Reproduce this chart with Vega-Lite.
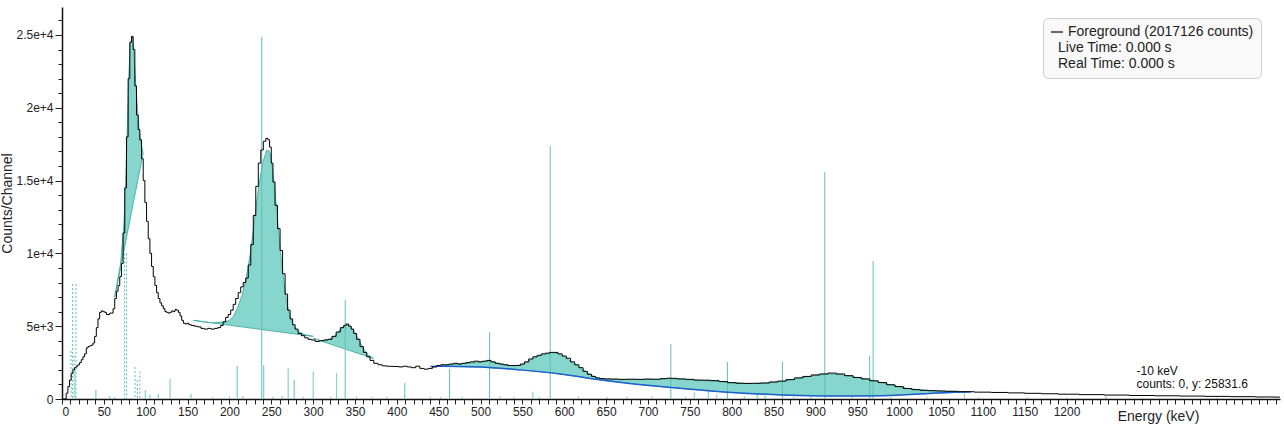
{
  "$schema": "https://vega.github.io/schema/vega-lite/v6.json",
  "width": 1218,
  "height": 392,
  "autosize": {"type": "none"},
  "padding": {"left": 62, "top": 7, "right": 4, "bottom": 31},
  "background": "white",
  "config": {"font": "Liberation Sans", "view": {"stroke": null}},
  "datasets": {
    "spectrum": [
      {"E":0,"C":0},{"E":4,"C":0},{"E":6,"C":400},{"E":8,"C":850},{"E":10,"C":1300},{"E":12,"C":1750},{"E":14,"C":2000},{"E":16,"C":2150},{"E":18,"C":2250},{"E":20,"C":2350},{"E":22,"C":2500},{"E":24,"C":2700},{"E":26,"C":2900},{"E":28,"C":3100},{"E":30,"C":3500},{"E":32,"C":3600},{"E":34,"C":3650},{"E":36,"C":3700},{"E":38,"C":3850},{"E":40,"C":4300},{"E":42,"C":4900},{"E":44,"C":5500},{"E":46,"C":5950},{"E":48,"C":6050},{"E":50,"C":6000},{"E":52,"C":5950},{"E":54,"C":5800},{"E":56,"C":5800},{"E":58,"C":5900},{"E":60,"C":5900},{"E":62,"C":6200},{"E":64,"C":6900},{"E":66,"C":7400},{"E":68,"C":7800},{"E":70,"C":8400},{"E":72,"C":9300},{"E":74,"C":11400},{"E":76,"C":14500},{"E":78,"C":18000},{"E":80,"C":22000},{"E":82,"C":24500},{"E":84,"C":24900},{"E":86,"C":24000},{"E":88,"C":21500},{"E":90,"C":19500},{"E":92,"C":18500},{"E":94,"C":17800},{"E":96,"C":16500},{"E":98,"C":15000},{"E":100,"C":13500},{"E":102,"C":12200},{"E":104,"C":11000},{"E":106,"C":10000},{"E":108,"C":9100},{"E":110,"C":8400},{"E":112,"C":7800},{"E":114,"C":7300},{"E":116,"C":6900},{"E":118,"C":6600},{"E":120,"C":6400},{"E":122,"C":6200},{"E":124,"C":6000},{"E":126,"C":5950},{"E":128,"C":5900},{"E":130,"C":5950},{"E":132,"C":6050},{"E":134,"C":6000},{"E":136,"C":6150},{"E":138,"C":6100},{"E":140,"C":5950},{"E":142,"C":5700},{"E":144,"C":5400},{"E":146,"C":5200},{"E":148,"C":5150},{"E":150,"C":5200},{"E":153,"C":5100},{"E":156,"C":5050},{"E":160,"C":5000},{"E":164,"C":4950},{"E":168,"C":4850},{"E":172,"C":4800},{"E":176,"C":4850},{"E":180,"C":4800},{"E":184,"C":4850},{"E":188,"C":4900},{"E":191,"C":5050},{"E":194,"C":5300},{"E":197,"C":5600},{"E":200,"C":5800},{"E":203,"C":6100},{"E":206,"C":6500},{"E":209,"C":6900},{"E":212,"C":7300},{"E":215,"C":7700},{"E":218,"C":8000},{"E":221,"C":8300},{"E":224,"C":9200},{"E":227,"C":10600},{"E":230,"C":12600},{"E":233,"C":14600},{"E":236,"C":16200},{"E":239,"C":17100},{"E":242,"C":17700},{"E":245,"C":17900},{"E":247,"C":17800},{"E":249,"C":17300},{"E":251,"C":16200},{"E":253,"C":14900},{"E":256,"C":13300},{"E":259,"C":11700},{"E":262,"C":10200},{"E":265,"C":8600},{"E":268,"C":7200},{"E":271,"C":6100},{"E":274,"C":5500},{"E":277,"C":5100},{"E":280,"C":4800},{"E":284,"C":4500},{"E":288,"C":4350},{"E":292,"C":4200},{"E":296,"C":4100},{"E":300,"C":4050},{"E":305,"C":3950},{"E":310,"C":4000},{"E":315,"C":4050},{"E":320,"C":4100},{"E":325,"C":4300},{"E":330,"C":4600},{"E":335,"C":4900},{"E":338,"C":5050},{"E":341,"C":5150},{"E":344,"C":5000},{"E":347,"C":4800},{"E":350,"C":4500},{"E":354,"C":4100},{"E":358,"C":3600},{"E":362,"C":3200},{"E":366,"C":2900},{"E":370,"C":2650},{"E":375,"C":2450},{"E":380,"C":2350},{"E":385,"C":2280},{"E":390,"C":2250},{"E":395,"C":2240},{"E":400,"C":2230},{"E":405,"C":2200},{"E":410,"C":2250},{"E":415,"C":2200},{"E":420,"C":2150},{"E":425,"C":2250},{"E":430,"C":2100},{"E":435,"C":2050},{"E":440,"C":2100},{"E":445,"C":2200},{"E":450,"C":2300},{"E":455,"C":2350},{"E":460,"C":2350},{"E":465,"C":2400},{"E":470,"C":2450},{"E":475,"C":2400},{"E":480,"C":2450},{"E":485,"C":2500},{"E":490,"C":2550},{"E":495,"C":2600},{"E":500,"C":2550},{"E":505,"C":2600},{"E":510,"C":2650},{"E":515,"C":2550},{"E":520,"C":2450},{"E":525,"C":2400},{"E":530,"C":2350},{"E":535,"C":2300},{"E":540,"C":2300},{"E":545,"C":2300},{"E":550,"C":2400},{"E":555,"C":2550},{"E":560,"C":2750},{"E":565,"C":2900},{"E":570,"C":3000},{"E":575,"C":3100},{"E":580,"C":3150},{"E":585,"C":3200},{"E":590,"C":3200},{"E":595,"C":3100},{"E":600,"C":2950},{"E":605,"C":2800},{"E":610,"C":2550},{"E":615,"C":2350},{"E":620,"C":2150},{"E":625,"C":1900},{"E":630,"C":1700},{"E":635,"C":1550},{"E":640,"C":1450},{"E":645,"C":1400},{"E":650,"C":1380},{"E":660,"C":1370},{"E":670,"C":1350},{"E":680,"C":1360},{"E":690,"C":1350},{"E":700,"C":1370},{"E":710,"C":1360},{"E":720,"C":1400},{"E":725,"C":1430},{"E":730,"C":1420},{"E":740,"C":1380},{"E":750,"C":1350},{"E":760,"C":1300},{"E":770,"C":1290},{"E":780,"C":1260},{"E":790,"C":1200},{"E":800,"C":1120},{"E":810,"C":1080},{"E":820,"C":1070},{"E":830,"C":1080},{"E":840,"C":1100},{"E":850,"C":1170},{"E":860,"C":1230},{"E":870,"C":1330},{"E":880,"C":1450},{"E":890,"C":1550},{"E":900,"C":1650},{"E":910,"C":1720},{"E":920,"C":1780},{"E":930,"C":1720},{"E":940,"C":1600},{"E":950,"C":1480},{"E":960,"C":1380},{"E":970,"C":1250},{"E":980,"C":1130},{"E":990,"C":980},{"E":1000,"C":850},{"E":1010,"C":720},{"E":1020,"C":640},{"E":1030,"C":600},{"E":1040,"C":570},{"E":1050,"C":550},{"E":1060,"C":530},{"E":1080,"C":500},{"E":1100,"C":470},{"E":1120,"C":450},{"E":1140,"C":420},{"E":1160,"C":390},{"E":1180,"C":360},{"E":1200,"C":330},{"E":1230,"C":300},{"E":1260,"C":270},{"E":1290,"C":240},{"E":1320,"C":220},{"E":1350,"C":200},{"E":1380,"C":180},{"E":1410,"C":160},{"E":1440,"C":140},{"E":1455,"C":130}
    ],
    "peaks": [
      {"p":"A","E":63,"C":7000,"base":7000},{"p":"A","E":66,"C":8000,"base":7870},{"p":"A","E":70,"C":9300,"base":9040},{"p":"A","E":74,"C":12000,"base":10200},{"p":"A","E":76,"C":14800,"base":10790},{"p":"A","E":78,"C":18500,"base":11370},{"p":"A","E":80,"C":22500,"base":11950},{"p":"A","E":82,"C":24400,"base":12530},{"p":"A","E":84,"C":24900,"base":13120},{"p":"A","E":86,"C":23600,"base":13700},{"p":"A","E":88,"C":21700,"base":14280},{"p":"A","E":90,"C":20000,"base":14860},{"p":"A","E":92,"C":18600,"base":15450},{"p":"A","E":94,"C":17600,"base":16030},{"p":"A","E":97,"C":16900,"base":16900},
      {"p":"B","E":157,"C":5400,"base":5400},{"p":"B","E":180,"C":5223,"base":5223},{"p":"B","E":195,"C":5300,"base":5108},{"p":"B","E":200,"C":5400,"base":5069},{"p":"B","E":205,"C":5700,"base":5031},{"p":"B","E":210,"C":6300,"base":4992},{"p":"B","E":215,"C":7100,"base":4954},{"p":"B","E":220,"C":8300,"base":4915},{"p":"B","E":225,"C":10000,"base":4877},{"p":"B","E":230,"C":12300,"base":4838},{"p":"B","E":235,"C":14600,"base":4800},{"p":"B","E":240,"C":16300,"base":4761},{"p":"B","E":245,"C":17100,"base":4723},{"p":"B","E":248,"C":17000,"base":4700},{"p":"B","E":251,"C":16000,"base":4677},{"p":"B","E":254,"C":14500,"base":4654},{"p":"B","E":257,"C":12600,"base":4631},{"p":"B","E":260,"C":10700,"base":4608},{"p":"B","E":263,"C":9000,"base":4585},{"p":"B","E":266,"C":7600,"base":4561},{"p":"B","E":269,"C":6500,"base":4538},{"p":"B","E":272,"C":5700,"base":4515},{"p":"B","E":276,"C":5100,"base":4485},{"p":"B","E":280,"C":4750,"base":4454},{"p":"B","E":285,"C":4550,"base":4415},{"p":"B","E":290,"C":4420,"base":4377},{"p":"B","E":300,"C":4300,"base":4300},
      {"p":"C","E":300,"C":4170,"base":4170},{"p":"C","E":310,"C":4000,"base":3977},{"p":"C","E":320,"C":4100,"base":3784},{"p":"C","E":325,"C":4300,"base":3688},{"p":"C","E":330,"C":4600,"base":3591},{"p":"C","E":335,"C":4900,"base":3495},{"p":"C","E":340,"C":5100,"base":3398},{"p":"C","E":343,"C":5050,"base":3340},{"p":"C","E":346,"C":4850,"base":3282},{"p":"C","E":350,"C":4500,"base":3205},{"p":"C","E":355,"C":4000,"base":3108},{"p":"C","E":360,"C":3450,"base":3012},{"p":"C","E":365,"C":3050,"base":2915},{"p":"C","E":372,"C":2780,"base":2780},
      {"p":"D","E":451,"C":2250,"base":2250},{"p":"D","E":460,"C":2330,"base":2240},{"p":"D","E":470,"C":2400,"base":2230},{"p":"D","E":480,"C":2430,"base":2215},{"p":"D","E":490,"C":2480,"base":2205},{"p":"D","E":500,"C":2550,"base":2195},{"p":"D","E":510,"C":2600,"base":2150},{"p":"D","E":520,"C":2450,"base":2110},{"p":"D","E":530,"C":2330,"base":2070},{"p":"D","E":540,"C":2280,"base":2030},{"p":"D","E":550,"C":2350,"base":1985},{"p":"D","E":560,"C":2700,"base":1925},{"p":"D","E":570,"C":2950,"base":1870},{"p":"D","E":580,"C":3100,"base":1810},{"p":"D","E":585,"C":3150,"base":1780},{"p":"D","E":590,"C":3150,"base":1750},{"p":"D","E":600,"C":2900,"base":1680},{"p":"D","E":610,"C":2500,"base":1595},{"p":"D","E":620,"C":2100,"base":1510},{"p":"D","E":630,"C":1700,"base":1420},{"p":"D","E":640,"C":1420,"base":1335},{"p":"D","E":650,"C":1350,"base":1265},{"p":"D","E":670,"C":1330,"base":1135},{"p":"D","E":690,"C":1330,"base":1000},{"p":"D","E":710,"C":1340,"base":880},{"p":"D","E":725,"C":1400,"base":805},{"p":"D","E":740,"C":1350,"base":730},{"p":"D","E":760,"C":1280,"base":630},{"p":"D","E":780,"C":1220,"base":540},{"p":"D","E":800,"C":1130,"base":450},{"p":"D","E":820,"C":1060,"base":395},{"p":"D","E":840,"C":1080,"base":340},{"p":"D","E":860,"C":1200,"base":285},{"p":"D","E":880,"C":1420,"base":260},{"p":"D","E":900,"C":1620,"base":235},{"p":"D","E":915,"C":1720,"base":215},{"p":"D","E":930,"C":1680,"base":212},{"p":"D","E":950,"C":1470,"base":218},{"p":"D","E":970,"C":1250,"base":225},{"p":"D","E":990,"C":970,"base":255},{"p":"D","E":1010,"C":720,"base":310},{"p":"D","E":1030,"C":600,"base":365},{"p":"D","E":1050,"C":540,"base":415},{"p":"D","E":1070,"C":510,"base":460},{"p":"D","E":1086,"C":500,"base":500}
    ],
    "blue": [
      {"E":440,"C":2230},{"E":451,"C":2250},{"E":499,"C":2200},{"E":547,"C":2000},{"E":595,"C":1720},{"E":642,"C":1320},{"E":702,"C":920},{"E":762,"C":620},{"E":800,"C":450},{"E":861,"C":280},{"E":921,"C":210},{"E":981,"C":230},{"E":1040,"C":390},{"E":1086,"C":500}
    ],
    "refs": [
      {"E":10.8,"C":3300,"d":"dashed"},{"E":12.7,"C":7900,"d":"dashed"},{"E":14.5,"C":3000,"d":"dashed"},{"E":15.5,"C":2000,"d":"dashed"},{"E":16.7,"C":7900,"d":"dashed"},{"E":74.5,"C":10000,"d":"dashed"},{"E":77.0,"C":10000,"d":"dashed"},{"E":87.2,"C":2200,"d":"dashed"},{"E":90.2,"C":1300,"d":"dashed"},{"E":93.1,"C":1880,"d":"dashed"},
      {"E":40.5,"C":620,"d":"solid"},{"E":57,"C":200,"d":"solid"},{"E":63,"C":150,"d":"solid"},{"E":99.5,"C":600,"d":"solid"},{"E":105,"C":300,"d":"solid"},{"E":115,"C":350,"d":"solid"},{"E":129.1,"C":1400,"d":"solid"},{"E":154,"C":350,"d":"solid"},{"E":180,"C":120,"d":"solid"},{"E":200,"C":150,"d":"solid"},{"E":209.3,"C":2270,"d":"solid"},{"E":216,"C":180,"d":"solid"},{"E":238.6,"C":24860,"d":"solid"},{"E":241,"C":2330,"d":"solid"},{"E":252,"C":150,"d":"solid"},{"E":263,"C":200,"d":"solid"},{"E":270.2,"C":2100,"d":"solid"},{"E":277.4,"C":1300,"d":"solid"},{"E":288,"C":150,"d":"solid"},{"E":300.1,"C":1880,"d":"solid"},{"E":321,"C":150,"d":"solid"},{"E":328,"C":1760,"d":"solid"},{"E":338.3,"C":6800,"d":"solid"},{"E":352,"C":150,"d":"solid"},{"E":370,"C":120,"d":"solid"},{"E":388,"C":150,"d":"solid"},{"E":409.5,"C":1100,"d":"solid"},{"E":440,"C":150,"d":"solid"},{"E":452,"C":120,"d":"solid"},{"E":463,"C":2060,"d":"solid"},{"E":478,"C":150,"d":"solid"},{"E":510.8,"C":4600,"d":"solid"},{"E":523,"C":180,"d":"solid"},{"E":540,"C":150,"d":"solid"},{"E":562.5,"C":500,"d":"solid"},{"E":570,"C":130,"d":"solid"},{"E":583.2,"C":17380,"d":"solid"},{"E":617,"C":150,"d":"solid"},{"E":651,"C":140,"d":"solid"},{"E":675,"C":150,"d":"solid"},{"E":705,"C":160,"d":"solid"},{"E":727.3,"C":3780,"d":"solid"},{"E":745,"C":150,"d":"solid"},{"E":755.3,"C":450,"d":"solid"},{"E":772,"C":730,"d":"solid"},{"E":782,"C":300,"d":"solid"},{"E":794.9,"C":2540,"d":"solid"},{"E":815,"C":200,"d":"solid"},{"E":830.5,"C":400,"d":"solid"},{"E":840,"C":250,"d":"solid"},{"E":860.6,"C":2540,"d":"solid"},{"E":874,"C":150,"d":"solid"},{"E":895,"C":180,"d":"solid"},{"E":911.2,"C":15590,"d":"solid"},{"E":944,"C":150,"d":"solid"},{"E":964.8,"C":2950,"d":"solid"},{"E":969,"C":9480,"d":"solid"},{"E":990,"C":130,"d":"solid"},{"E":1033,"C":150,"d":"solid"},{"E":1078,"C":450,"d":"solid"},{"E":1095,"C":120,"d":"solid"},{"E":1153,"C":120,"d":"solid"},{"E":1200,"C":100,"d":"solid"},{"E":1247,"C":220,"d":"solid"},{"E":1290,"C":100,"d":"solid"},{"E":1380,"C":100,"d":"solid"},{"E":1430,"C":90,"d":"solid"}
    ],
    "note": [
      {"E":1283.6,"C":2270,"t":"-10 keV\ncounts: 0, y: 25831.6"}
    ]
  },
  "encoding": {
    "x": {"field": "E", "type": "quantitative", "scale": {"domain": [0, 1455], "nice": false, "zero": false},
      "axis": {
        "values": [0,10,20,30,40,50,60,70,80,90,100,110,120,130,140,150,160,170,180,190,200,210,220,230,240,250,260,270,280,290,300,310,320,330,340,350,360,370,380,390,400,410,420,430,440,450,460,470,480,490,500,510,520,530,540,550,560,570,580,590,600,610,620,630,640,650,660,670,680,690,700,710,720,730,740,750,760,770,780,790,800,810,820,830,840,850,860,870,880,890,900,910,920,930,940,950,960,970,980,990,1000,1010,1020,1030,1040,1050,1060,1070,1080,1090,1100,1110,1120,1130,1140,1150,1160,1170,1180,1190,1200,1210,1220,1230,1240,1250,1260,1270,1280,1290,1300,1310,1320,1330,1340,1350,1360,1370,1380,1390,1400,1410,1420,1430,1440,1450],
        "labelExpr": "(datum.value % 50 === 0 && datum.value <= 1200) ? ('' + datum.value) : ''",
        "labelOverlap": false,
        "labelFontSize": 12,
        "labelColor": "#222",
        "labelPadding": 2,
        "tickSize": 5,
        "tickColor": "#222",
        "domainColor": "#111",
        "domainWidth": 1.5,
        "grid": false,
        "title": "Energy (keV)",
        "titleFontSize": 14,
        "titleFontWeight": "normal",
        "titleColor": "#222",
        "titleX": 1096,
        "titleY": 21,
        "titleAlign": "center",
        "titleBaseline": "alphabetic"
      }
    },
    "y": {"field": "C", "type": "quantitative", "scale": {"domain": [0, 26920], "nice": false},
      "axis": {
        "values": [0,1000,2000,3000,4000,5000,6000,7000,8000,9000,10000,11000,12000,13000,14000,15000,16000,17000,18000,19000,20000,21000,22000,23000,24000,25000,26000],
        "labelExpr": "datum.value === 0 ? '0' : (datum.value % 5000 !== 0 ? '' : (datum.value < 10000 ? (datum.value/1000) + 'e+3' : (datum.value/10000) + 'e+4'))",
        "labelOverlap": false,
        "labelFontSize": 12,
        "labelColor": "#222",
        "labelPadding": 2,
        "tickSize": {"condition": {"test": "datum.value % 5000 === 0", "value": 7}, "value": 4},
        "tickColor": "#222",
        "domainColor": "#111",
        "domainWidth": 1.5,
        "grid": false,
        "title": "Counts/Channel",
        "titleFontSize": 14,
        "titleFontWeight": "normal",
        "titleColor": "#222",
        "titleX": -48,
        "titleY": 196,
        "titleAngle": -90,
        "titleAlign": "center",
        "titleBaseline": "bottom"
      }
    }
  },
  "layer": [
    {
      "data": {"name": "peaks"},
      "mark": {"type": "area", "fill": "#80d4ca", "fillOpacity": 0.95, "stroke": "#4cb3a8", "strokeWidth": 1},
      "encoding": {
        "y2": {"field": "base"},
        "detail": {"field": "p", "type": "nominal"}
      }
    },
    {
      "data": {"name": "refs"},
      "mark": {"type": "rule", "strokeWidth": 1, "color": "#5cc1b6"},
      "encoding": {
        "y2": {"datum": 0},
        "strokeDash": {"field": "d", "type": "nominal", "scale": {"domain": ["solid", "dashed"], "range": [[1, 0], [2, 2]]}, "legend": null}
      }
    },
    {
      "data": {"name": "blue"},
      "mark": {"type": "line", "color": "#1f5fd0", "strokeWidth": 1.5, "interpolate": "monotone"},
      "encoding": {}
    },
    {
      "data": {"name": "spectrum"},
      "mark": {"type": "line", "strokeWidth": 1, "interpolate": "step", "color": "#000000"},
      "encoding": {}
    },
    {
      "data": {"name": "note"},
      "mark": {"type": "line", "strokeWidth": 2},
      "encoding": {
        "color": {
          "datum": "Foreground (2017126 counts)",
          "type": "nominal",
          "scale": {"domain": ["Foreground (2017126 counts)", "Live Time: 0.000 s", "Real Time: 0.000 s"], "range": ["#666666", "transparent", "transparent"]},
          "legend": {
            "title": null,
            "orient": "none",
            "legendX": 981,
            "legendY": 11,
            "symbolType": "stroke",
            "symbolSize": 144,
            "symbolStrokeWidth": 2,
            "labelFontSize": 14,
            "labelColor": "#222",
            "labelLimit": 400,
            "fillColor": "#f9f9f9",
            "strokeColor": "#cfcfcf",
            "cornerRadius": 5,
            "padding": 7,
            "rowPadding": 2,
            "encode": {
              "labels": {"update": {"dx": {"signal": "datum.index === 0 ? 0 : -10"}}}
            }
          }
        }
      }
    },
    {
      "data": {"name": "note"},
      "mark": {"type": "text", "align": "left", "baseline": "top", "fontSize": 12, "lineBreak": "\n", "lineHeight": 13, "color": "#111"},
      "encoding": {
        "text": {"field": "t"}
      }
    }
  ]
}
